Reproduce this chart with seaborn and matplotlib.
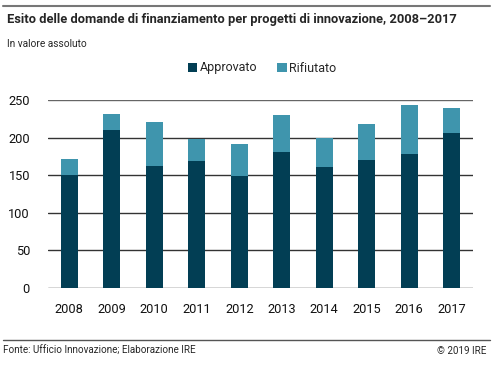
import matplotlib
matplotlib.use('Agg')
from matplotlib import pyplot as plt
from matplotlib.patches import Patch
from matplotlib.lines import Line2D
import seaborn as sns
import pandas

anni = ['2008', '2009', '2010', '2011', '2012', '2013', '2014', '2015', '2016', '2017']
approvato = [150, 210, 162, 169, 149, 181, 161, 170, 178, 206]
rifiutato = [21, 21, 59, 29, 42, 49, 39, 48, 65, 33]
y_ticks = [0, 50, 100, 150, 200, 250]

c_app = '#023e54'
c_rif = '#3f95ad'

df = pandas.DataFrame({'anno': anni, 'Approvato': approvato, 'Rifiutato': rifiutato})
df['Totale'] = df['Approvato'] + df['Rifiutato']

sns.set_style('white')
plt.rcParams['font.family'] = ['Roboto', 'DejaVu Sans']
narrow = ['Liberation Sans Narrow', 'Roboto', 'DejaVu Sans']

fig = plt.figure(figsize=(4.99, 3.66), dpi=100)
ax = fig.add_axes([48 / 499, 1 - 288 / 366, 425 / 499, 188 / 366])

# stacked bars: total in light colour, approved on top in dark
sns.barplot(data=df, x='anno', y='Totale', color=c_rif, width=0.39, saturation=1, linewidth=0, ax=ax)
sns.barplot(data=df, x='anno', y='Approvato', color=c_app, width=0.39, saturation=1, linewidth=0, ax=ax)

ax.set_ylim(0, 250)
ax.set_xlim(-0.5, len(anni) - 0.5)
ax.set_yticks(y_ticks)
for t in y_ticks:
    ax.axhline(t, color='#333333' if t < 250 else '#666666', lw=1, zorder=0.5)
ax.set_axisbelow(True)
ax.set_xlabel('')
ax.set_ylabel('')
sns.despine(ax=ax, left=True, bottom=True, top=True, right=True)
ax.tick_params(axis='both', length=0, labelsize=9.2, colors='#111111')
ax.tick_params(axis='y', pad=13)
ax.tick_params(axis='x', pad=11)

# legend
handles = [Patch(facecolor=c_app, edgecolor='none'), Patch(facecolor=c_rif, edgecolor='none')]
fig.legend(handles, ['Approvato', 'Rifiutato'], loc='center', bbox_to_anchor=(262 / 499, 1 - 68 / 366),
           ncol=2, frameon=False, fontsize=9, handlelength=0.75, handleheight=0.75,
           handletextpad=0.2, columnspacing=1.6)

# title and notes
fig.add_artist(Line2D([3 / 499, 490 / 499], [1 - 6 / 366, 1 - 6 / 366], color='#777777', lw=1.5))
fig.text(7 / 499, 1 - 20 / 366, 'Esito delle domande di finanziamento per progetti di innovazione, 2008–2017',
         fontsize=9.25, fontweight='bold', family=narrow, va='center', ha='left')
fig.text(7 / 499, 1 - 44 / 366, 'In valore assoluto', fontsize=7.3, family=narrow, va='center', ha='left')

fig.add_artist(Line2D([3 / 499, 490 / 499], [1 - 340 / 366, 1 - 340 / 366], color='#555555', lw=1))
fig.text(3 / 499, 1 - 351 / 366, 'Fonte: Ufficio Innovazione; Elaborazione IRE', fontsize=7.1, family=narrow,
         va='center', ha='left')
fig.text(486 / 499, 1 - 351 / 366, '© 2019 IRE', fontsize=7.1, family=narrow, va='center', ha='right')

fig.savefig('out.png', dpi=100)
